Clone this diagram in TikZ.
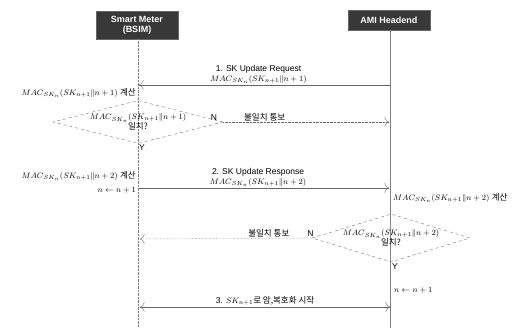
\documentclass[tikz,border=0pt]{standalone}
\usepackage{fontspec}
\setmainfont{Liberation Sans}
\newfontfamily\krfont{Noto Sans CJK KR}
\usetikzlibrary{arrows.meta, shapes.geometric}

\newcommand{\macexpr}[1]{$\mathnormal{MAC}_{SK_n}(SK_{n+1}\|n+#1)$}

\begin{document}
\begin{tikzpicture}[
x=1pt, y=-1pt,
font=\fontsize{8.5}{10}\selectfont,
actor/.style={draw=black!60, fill=black!78, text=white, font=\fontsize{9}{10}\selectfont\bfseries, align=center, minimum width=82pt, inner sep=1pt},
check/.style={diamond, draw=black!55, dashed, minimum width=#1, inner sep=0pt},
lbl/.style={inner sep=1pt, align=center, text=black},
msg/.style={-{To[length=1.6mm]}, black!60},
nack/.style={-{To[length=1.6mm]}, black!60, densely dotted},
life/.style={black!50}
]
\useasboundingbox (0,0) rectangle (523,328);

% participants
\node[actor, minimum height=28pt] (meter) at (137,25) {Smart Meter\\(BSIM)};
\node[actor, minimum height=20pt] (headend) at (389,20) {AMI Headend};
\coordinate (meterend) at (138,328);
\coordinate (headendend) at (390,328);
\draw[life, densely dotted] (meter.south -| meterend) -- (meterend);
\draw[life] (headend.south -| headendend) -- (headendend);

% 1. update request
\coordinate (reqfrom) at (390,85);
\coordinate (reqto) at (139,85);
\draw[msg] (reqfrom) -- (reqto)
  node[lbl, midway, above, xshift=-6pt] (reqlbl) {1. SK Update Request\\\macexpr{1}};
\node[lbl, anchor=east] (calc1) at (137,93) {\macexpr{1} {\krfont 계산}};

\node[check=170pt, minimum height=43pt] (chk1) at (138,122) {};
\node[lbl] (chk1txt) at (chk1) {\macexpr{1}\\{\krfont 일치?}};
\coordinate (nack1to) at (389,122);
\draw[nack] (chk1.east) -- (nack1to)
  node[lbl, pos=0.25, above] (nack1lbl) {\krfont 불일치 통보};
\node[lbl, anchor=south east] (no1) at ([xshift=-5pt]chk1.east) {N};
\node[lbl, anchor=north west] (yes1) at (chk1.south) {Y};

% 2. update response
\coordinate (resfrom) at (139,188);
\coordinate (resto) at (389,188);
\draw[msg] (resfrom) -- (resto)
  node[lbl, midway, above, xshift=-6pt] (reslbl) {2. SK Update Response\\\macexpr{2}};
\node[lbl, anchor=east] (calc2) at (137,176) {\macexpr{2} {\krfont 계산}};
\node[lbl, anchor=east] (incr1) at (137,190) {$n \leftarrow n+1$};
\node[lbl, anchor=west] (calc3) at (392,198) {\macexpr{2} {\krfont 계산}};

\node[check=158pt, minimum height=48pt] (chk2) at (391,238) {};
\node[lbl] (chk2txt) at (chk2) {\macexpr{2}\\{\krfont 일치?}};
\coordinate (nack2to) at (140,239);
\draw[nack] (chk2.west) -- (nack2to)
  node[lbl, pos=0.25, above] (nack2lbl) {\krfont 불일치 통보};
\node[lbl, anchor=south east] (no2) at ([xshift=3pt]chk2.west) {N};
\node[lbl, anchor=north west] (yes2) at (chk2.south) {Y};
\node[lbl, anchor=west] (incr2) at (393,290) {$n \leftarrow n+1$};

% 3. start
\coordinate (startl) at (140,307);
\coordinate (startr) at (390,307);
\draw[msg, {To[length=1.6mm]}-{To[length=1.6mm]}] (startl) -- (startr)
  node[lbl, midway, above] (startlbl) {3. $SK_{n+1}${\krfont 로 암,복호화 시작}};
\end{tikzpicture}
\end{document}
